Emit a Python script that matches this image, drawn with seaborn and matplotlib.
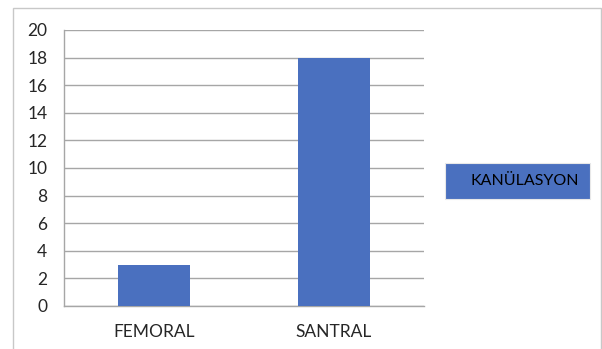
import matplotlib.pyplot as plt
import matplotlib.patches as mpatches
import pandas as pd
import seaborn as sns

# 카테고리 / 값
categories = ["FEMORAL", "SANTRAL"]
values = [3, 18]
series_name = "KANÜLASYON"

df = pd.DataFrame({"kategori": categories, "sayi": values})

sns.set_style("white")
plt.rcParams["font.family"] = ["Lato", "DejaVu Sans"]

fig = plt.figure(figsize=(6.02, 3.49), dpi=100)
ax = fig.add_axes([64 / 602, 1 - 306 / 349, 360 / 602, 276 / 349])

bar_color = "#4a70bf"
sns.barplot(data=df, x="kategori", y="sayi", color=bar_color, saturation=1, width=0.4,
            edgecolor="none", ax=ax, zorder=3)

ax.set_ylim(0, 20)
ax.set_xlim(-0.5, 1.5)
ax.set_yticks(range(0, 21, 2))
ax.set_xlabel("")
ax.set_ylabel("")
ax.grid(axis="y", color="#a6a6a6", linewidth=1, zorder=0)
ax.grid(axis="x", visible=False)

for s in ["top", "right"]:
    ax.spines[s].set_visible(False)
for s in ["left", "bottom"]:
    ax.spines[s].set_color("#a6a6a6")
    ax.spines[s].set_linewidth(1)

# x 축 눈금은 카테고리 경계에
ax.set_xticks([-0.5, 0.5, 1.5], minor=False)
ax.set_xticklabels([])
ax.set_xticks([0, 1], minor=True)
ax.set_xticklabels(categories, minor=True, fontsize=12.5)
ax.tick_params(axis="x", which="major", length=5, color="#a6a6a6", direction="out")
ax.tick_params(axis="x", which="minor", length=0, pad=13)
ax.tick_params(axis="y", length=6, color="#a6a6a6", direction="out", labelsize=12.5, pad=6)

# 바깥 테두리
fig.patches.append(mpatches.Rectangle((13 / 602, -0.1), 588 / 602, 1.1 - 8 / 349,
                                      transform=fig.transFigure, fill=False,
                                      edgecolor="#c8c8c8", linewidth=1))

# 범례 상자
fig.patches.append(mpatches.Rectangle((445 / 602, 1 - 199 / 349), 145 / 602, 36 / 349,
                                      transform=fig.transFigure, facecolor=bar_color,
                                      edgecolor="#e8e8e8", linewidth=0.8))
fig.text(471 / 602, 1 - 181 / 349, series_name, ha="left", va="center", fontsize=11.5, color="black")

plt.savefig("out.png", dpi=100)
